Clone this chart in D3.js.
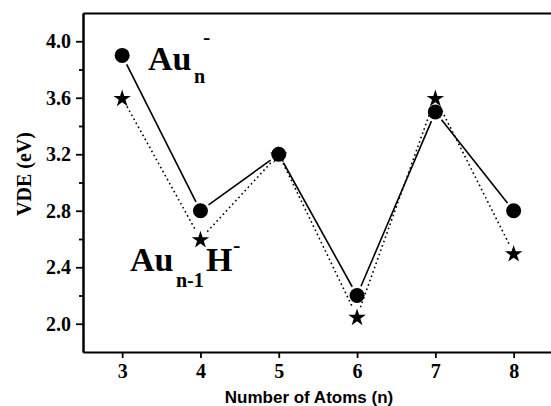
<!DOCTYPE html>
<html>
<head>
<meta charset="utf-8">
<script src="https://cdn.jsdelivr.net/npm/d3@7"></script>
<style>
  body { margin: 0; background: #fff; }
  svg { display: block; }
  .tick text { font-family: "Liberation Serif", serif; font-weight: bold; fill: #000; }
</style>
</head>
<body>
<svg id="chart" width="551" height="406"></svg>
<script>
// data
var atoms = [3, 4, 5, 6, 7, 8];
var vdeAu = [3.9, 2.8, 3.2, 2.2, 3.5, 2.8];       // Au_n^-
var vdeAuH = [3.6, 2.6, 3.2, 2.05, 3.6, 2.5];     // Au_(n-1)H^-
var yMajor = [2.0, 2.4, 2.8, 3.2, 3.6, 4.0];
var yMinor = [2.2, 2.6, 3.0, 3.4, 3.8];

(function() {
  var svg = d3.select("#chart");
  var mLeft = 83, mTop = 13, mBottom = 352, mRight = 552.8;

  var x = d3.scaleLinear().domain([2.5, 8.5]).range([mLeft, mRight]);
  var y = d3.scaleLinear().domain([1.8, 4.2]).range([mBottom, mTop]);

  // axes
  var gx = svg.append("g")
    .attr("transform", "translate(0," + mBottom + ")")
    .call(d3.axisBottom(x).tickValues(atoms).tickSize(6).tickSizeOuter(0).tickPadding(6).tickFormat(d3.format("d")));
  gx.selectAll("text").style("font-size", "20px");

  svg.append("g")
    .attr("transform", "translate(" + mLeft + ",0)")
    .call(d3.axisLeft(y).tickValues(yMinor).tickSize(4).tickSizeOuter(0).tickFormat(""));

  var gy = svg.append("g")
    .attr("transform", "translate(" + mLeft + ",0)")
    .call(d3.axisLeft(y).tickValues(yMajor).tickSize(7).tickSizeOuter(0).tickPadding(5).tickFormat(d3.format(".1f")));
  gy.selectAll("text").style("font-size", "20px");

  svg.append("g")
    .attr("transform", "translate(0," + mTop + ")")
    .call(d3.axisTop(x).tickValues([]).tickSizeOuter(0));

  svg.selectAll(".domain").attr("stroke-width", 2).attr("stroke", "#000");
  svg.selectAll(".tick line").attr("stroke-width", 1.8).attr("stroke", "#000");

  // connecting lines with a small gap at each marker
  function gappedSegments(vals, gap) {
    var segs = [];
    for (var i = 0; i < atoms.length - 1; i++) {
      var x1 = x(atoms[i]), y1 = y(vals[i]), x2 = x(atoms[i + 1]), y2 = y(vals[i + 1]);
      var len = Math.hypot(x2 - x1, y2 - y1);
      var ux = (x2 - x1) / len, uy = (y2 - y1) / len;
      segs.push([x1 + ux * gap, y1 + uy * gap, x2 - ux * gap, y2 - uy * gap]);
    }
    return segs;
  }

  svg.append("g").selectAll("line")
    .data(gappedSegments(vdeAuH, 10))
    .join("line")
    .attr("x1", d => d[0]).attr("y1", d => d[1])
    .attr("x2", d => d[2]).attr("y2", d => d[3])
    .attr("stroke", "#000").attr("stroke-width", 1.6)
    .attr("stroke-dasharray", "1.6,3");

  svg.append("g").selectAll("line")
    .data(gappedSegments(vdeAu, 10))
    .join("line")
    .attr("x1", d => d[0]).attr("y1", d => d[1])
    .attr("x2", d => d[2]).attr("y2", d => d[3])
    .attr("stroke", "#000").attr("stroke-width", 1.6);

  // markers
  var star = d3.symbol().type(d3.symbolStar).size(95);
  svg.append("g").selectAll("path")
    .data(atoms)
    .join("path")
    .attr("transform", (d, i) => "translate(" + x(d) + "," + (y(vdeAuH[i]) + 1) + ")")
    .attr("d", star)
    .attr("fill", "#000");

  svg.append("g").selectAll("circle")
    .data(atoms)
    .join("circle")
    .attr("cx", d => x(d))
    .attr("cy", (d, i) => y(vdeAu[i]))
    .attr("r", 7.5)
    .attr("fill", "#000");

  // axis titles
  svg.append("text")
    .attr("x", 309).attr("y", 403)
    .attr("text-anchor", "middle")
    .style("font-family", "Liberation Sans, Arial, sans-serif")
    .style("font-weight", "bold").style("font-size", "17px")
    .text("Number of Atoms (n)");

  svg.append("text")
    .attr("transform", "translate(31,174) rotate(-90)")
    .attr("text-anchor", "middle")
    .style("font-family", "Liberation Serif, serif")
    .style("font-weight", "bold").style("font-size", "20px")
    .text("VDE (eV)");

  // series labels
  var lab = svg.append("g")
    .style("font-family", "Liberation Serif, serif")
    .style("font-weight", "bold");

  lab.append("text").attr("x", 148).attr("y", 70).style("font-size", "34px").text("Au");
  lab.append("text").attr("x", 194).attr("y", 83).style("font-size", "20px").text("n");
  lab.append("text").attr("x", 203).attr("y", 44).style("font-size", "22px").text("-");

  lab.append("text").attr("x", 130).attr("y", 271).style("font-size", "34px").text("Au");
  lab.append("text").attr("x", 176).attr("y", 287).style("font-size", "20px").text("n-1");
  lab.append("text").attr("x", 206).attr("y", 271).style("font-size", "34px").text("H");
  lab.append("text").attr("x", 233).attr("y", 252).style("font-size", "22px").text("-");
})();
</script>
</body>
</html>
